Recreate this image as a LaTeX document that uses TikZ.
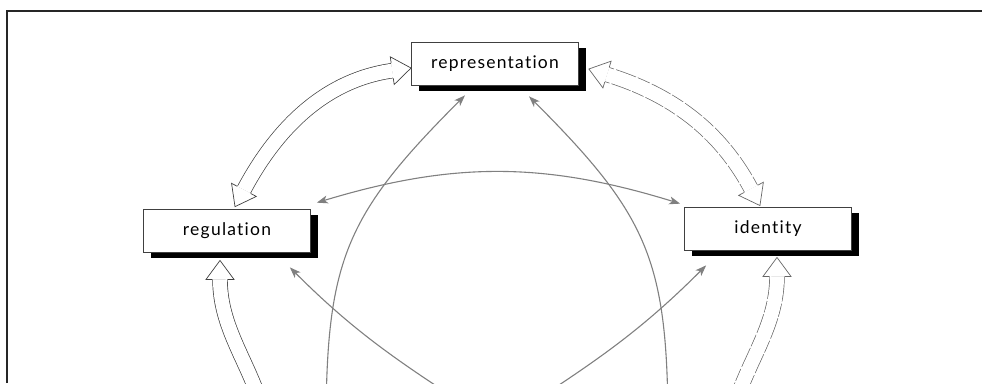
\documentclass[tikz,border=0pt]{standalone}
\usepackage{fontspec}
\newfontfamily\boxfont[LetterSpace=7,Ligatures=NoCommon]{Lato}
\usetikzlibrary{arrows.meta,decorations.markings,shadows}

\tikzset{
  box/.style={draw=black!75, line width=0.7pt, fill=white,
    minimum width=167pt, minimum height=43pt, inner sep=0pt,
    font=\boxfont\fontsize{17.5}{20}\selectfont, text=black,
    general shadow={fill=black, shadow xshift=7pt, shadow yshift=-6pt}},
  hshaft/.style={draw=black!75, line width=0.7pt, double=white,
    double distance=14pt, shorten <=19pt, shorten >=19pt},
  hhead/.style={draw=black!75, line width=0.7pt, fill=white, line join=miter},
  faint/.style={draw=black!60},
  gaps/.style={draw=white, line width=18pt, shorten <=24pt, shorten >=24pt,
    dash pattern=on 2pt off 21pt on 1.5pt off 13pt},
  tipg/.tip={Stealth[length=11pt,width=8pt,inset=3pt]},
  pencil/.style={draw=black!50, line width=1.1pt},
  frame/.style={draw=black!85, line width=1.8pt},
}

% broad outlined two-headed arrow along a path
\newcommand\hollowlink[2][]{%
  \draw[hshaft,#1] #2;
  \path[decorate, decoration={markings,
    mark=at position 0 with {\draw[hhead,#1] (19pt,7.7pt) -- (19pt,14pt) -- (0pt,0pt) -- (19pt,-14pt) -- (19pt,-7.7pt);}}] #2;
  \path[decorate, decoration={markings,
    mark=at position 0.9995 with {\draw[hhead,#1] (-19pt,7.7pt) -- (-19pt,14pt) -- (0pt,0pt) -- (-19pt,-14pt) -- (-19pt,-7.7pt);}}] #2;
}
% the same, its outline broken in places
\newcommand\brokenlink[1]{%
  \hollowlink[faint]{#1}
  \draw[gaps] #1;
}

\begin{document}
\begin{tikzpicture}[x=1pt,y=-1pt]
\useasboundingbox (0,0) rectangle (982,383);
\clip (0,0) rectangle (982,383);

% page frame
\draw[frame] (7,383) -- (7,11) -- (982,11);

% the three moments
\node[box] (rep) at (495,63.5) {representation};
\node[box] (reg) at (227,230.5) {regulation};
\node[box] (id)  at (768,228.5) {identity};

% ends of links running on below the visible part
\coordinate (regfoot) at (268,430);
\coordinate (idfoot)  at (728,430);
\coordinate (g1foot)  at (326,430);
\coordinate (g2foot)  at (668,430);
\coordinate (g4foot)  at (470,408);
\coordinate (g5foot)  at (524,408);

% thin grey links
\draw[pencil,-tipg] (g1foot) to[out=90,in=-135,looseness=1.2] ([xshift=-30pt,yshift=-10pt]rep.south);
\draw[pencil,-tipg] (g2foot) to[out=90,in=-45,looseness=1.2] ([xshift=34pt,yshift=-11pt]rep.south);
\draw[pencil,tipg-tipg] ([shift={(6pt,6pt)}]reg.north east) to[bend left=17] ([shift={(-4pt,3pt)}]id.north west);
\draw[pencil,-tipg] (g4foot) to[out=147,in=-45] ([shift={(-21pt,-15pt)}]reg.south east);
\draw[pencil,-tipg] (g5foot) to[out=33,in=-135] ([shift={(22pt,-15pt)}]id.south west);

% broad outlined links
\hollowlink{([xshift=8pt,yshift=2pt]reg.north) to[out=62,in=188] ([yshift=-4.5pt]rep.west)}
\brokenlink{([xshift=10pt,yshift=-5.5pt]rep.east) to[out=-17,in=118] ([xshift=-8pt,yshift=1pt]id.north)}
\hollowlink{(regfoot) to[out=105,in=-90] ([xshift=-7pt,yshift=-8pt]reg.south)}
\brokenlink{(idfoot) to[out=75,in=-90] ([xshift=9pt,yshift=-7pt]id.south)}
\end{tikzpicture}
\end{document}
